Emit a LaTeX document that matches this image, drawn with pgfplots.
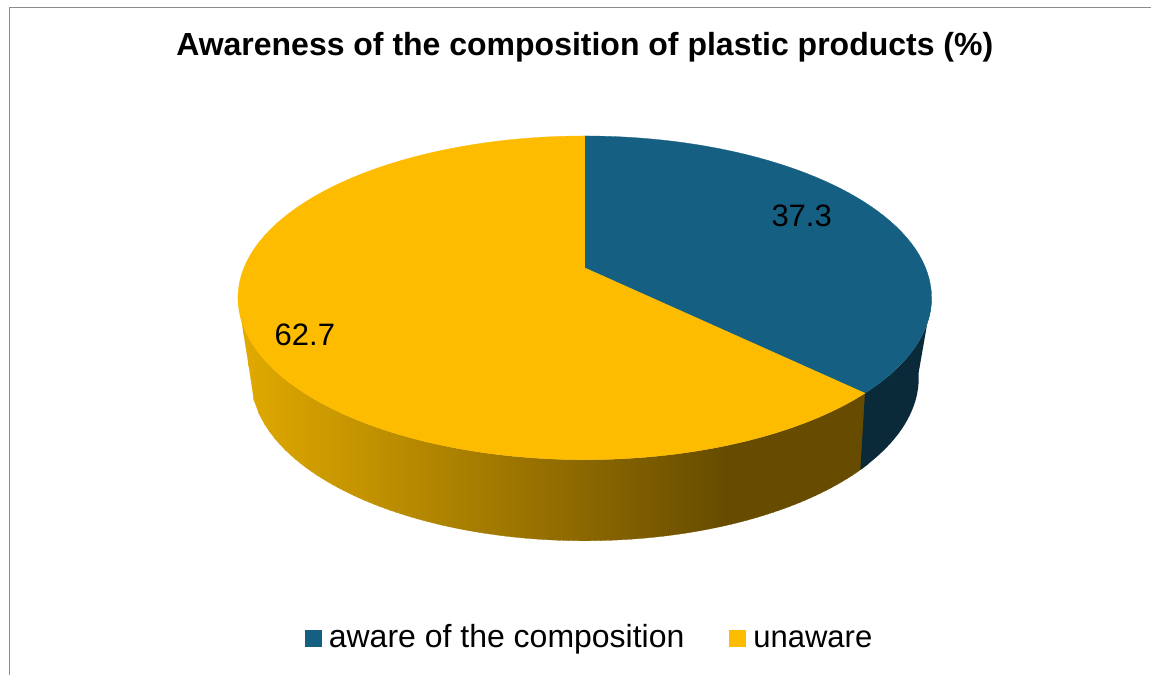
\documentclass[border=0pt]{standalone}
\usepackage{fontspec}
\setmainfont{Liberation Sans}
\usepackage{pgfplots}
\usepackage{pgfplotstable}
\pgfplotsset{compat=1.18}

\definecolor{pieblue}{HTML}{156082}
\definecolor{pieyellow}{HTML}{FDBC00}
\definecolor{wallblue}{HTML}{0A2A3A}
\definecolor{framegray}{HTML}{8C8C8C}

% Shares of the two answers, in percent
\pgfplotstableread{
answer share
aware 37.3
unaware 62.7
}\shares
\pgfplotstablegetelem{0}{share}\of\shares \global\let\awareShare\pgfplotsretval
\pgfplotstablegetelem{1}{share}\of\shares \global\let\unawareShare\pgfplotsretval

% Clockwise angle at which the first slice ends
\pgfmathsetmacro{\tcut}{360*\awareShare/100}

% Perspective projection of the disc's upper and lower rims
\newcommand{\toprim}[1]{%
  \pgfmathsetmacro{\px}{585+341*sin(#1)/(1+0.185*cos(#1))}%
  \pgfmathsetmacro{\py}{268-156.4*cos(#1)/(1+0.185*cos(#1))}}
\newcommand{\lowrim}[1]{%
  \pgfmathsetmacro{\qx}{585+326*sin(#1)/(1+0.22*cos(#1))}%
  \pgfmathsetmacro{\qy}{341.9-155.3*cos(#1)/(1+0.22*cos(#1))}}
% Heights of the front wall's edges at a given horizontal position
\newcommand{\walledges}[1]{%
  \pgfmathsetmacro{\wallTop}{298+162*sqrt(max(0,1-((#1-585)/347)*((#1-585)/347)))}%
  \pgfmathparse{#1<250.8 ? 298+(#1-238)/12.8*79.8 : 377.8+163.2*sqrt(max(0,1-((#1-585)/334.2)*((#1-585)/334.2)))}%
  \let\wallLow\pgfmathresult}

\begin{document}
\begin{tikzpicture}
\begin{axis}[
  width=1151pt, height=675pt, scale only axis,
  xmin=0, xmax=1151, ymin=0, ymax=675, y dir=reverse,
  hide axis, clip=false,
  legend columns=2,
  legend style={
    at={(axis cs:305,636.5)}, anchor=west, draw=none, fill=none,
    inner sep=0pt, outer sep=0pt,
    font=\fontsize{32}{36}\selectfont,
    cells={anchor=base west},
    nodes={inner sep=0pt, outer sep=0pt},
    /tikz/every odd column/.append style={column sep=7pt},
    /tikz/every even column/.append style={column sep=45pt},
  },
  legend image code/.code={\fill[#1,draw=none] (0pt,0pt) rectangle (17pt,17pt);},
]
% page background and chart frame
\addplot[forget plot, fill=white, draw=none] coordinates {(0,0) (1151,0) (1151,675) (0,675)} -- cycle;
\addplot[forget plot, framegray, line width=1pt] coordinates {(9.5,675) (9.5,7.5) (1151,7.5)};

% front wall of the second slice, shaded in narrow upright strips
\pgfplotsforeachungrouped \i in {0,...,119}{%
  \pgfmathsetmacro{\stripL}{238+5.25*\i}%
  \pgfmathsetmacro{\stripR}{\stripL+5.75}%
  \walledges{\stripL}\edef\topL{\wallTop}\edef\lowL{\wallLow}%
  \walledges{\stripR}\edef\topR{\wallTop}\edef\lowR{\wallLow}%
  \pgfmathsetmacro{\darkness}{min(1,max(0,(\stripL+2.6-245)/485))}%
  \pgfmathtruncatemacro{\shadeR}{225-122*\darkness}%
  \pgfmathtruncatemacro{\shadeG}{170-94*\darkness}%
  \edef\cmd{\noexpand\addplot[forget plot, fill={rgb,255:red,\shadeR;green,\shadeG;blue,0}, draw={rgb,255:red,\shadeR;green,\shadeG;blue,0}, line width=0.2pt] coordinates {(\stripL,\topL) (\stripR,\topR) (\stripR,\lowR) (\stripL,\lowL)} -- cycle;}%
  \cmd
}

% side wall of the first slice
\gdef\pts{}
\gdef\back{}
\pgfplotsforeachungrouped \i in {0,...,30}{%
  \pgfmathsetmacro{\angA}{101+(\tcut-101)*(\i/30)}%
  \toprim{\angA}\lowrim{\angA}%
  \xdef\pts{\pts (\px,\py)}%
  \xdef\back{(\qx,\qy) \back}%
}
\edef\cmd{\noexpand\addplot[forget plot, fill=wallblue, draw=none] coordinates {\pts\space\back} -- cycle;}
\cmd

% top faces of both slices
\gdef\pts{(585,268)}
\pgfplotsforeachungrouped \i in {0,...,60}{%
  \pgfmathsetmacro{\angA}{\tcut*(\i/60)}%
  \toprim{\angA}%
  \xdef\pts{\pts (\px,\py)}%
}
\edef\cmd{\noexpand\addplot[forget plot, fill=pieblue, draw=pieblue, line width=0.3pt] coordinates {\pts} -- cycle;}
\cmd
\gdef\pts{(585,268)}
\pgfplotsforeachungrouped \i in {0,...,90}{%
  \pgfmathsetmacro{\angA}{\tcut+(360-\tcut)*(\i/90)}%
  \toprim{\angA}%
  \xdef\pts{\pts (\px,\py)}%
}
\edef\cmd{\noexpand\addplot[forget plot, fill=pieyellow, draw=pieyellow, line width=0.3pt] coordinates {\pts} -- cycle;}
\cmd

% legend
\addlegendimage{fill=pieblue}
\addlegendentry{aware of the composition}
\addlegendimage{fill=pieyellow}
\addlegendentry{\fontsize{31}{36}\selectfont unaware}

% value labels and title
\node[font=\fontsize{31}{36}\selectfont, inner sep=0pt] at (axis cs:802,216) {\awareShare};
\node[font=\fontsize{31}{36}\selectfont, inner sep=0pt] at (axis cs:305,335) {\unawareShare};
\node[font=\bfseries\fontsize{32}{36}\selectfont, inner sep=0pt] at (axis cs:585,47) {Awareness of the composition of plastic products (\%)};
\end{axis}
\end{tikzpicture}
\end{document}
